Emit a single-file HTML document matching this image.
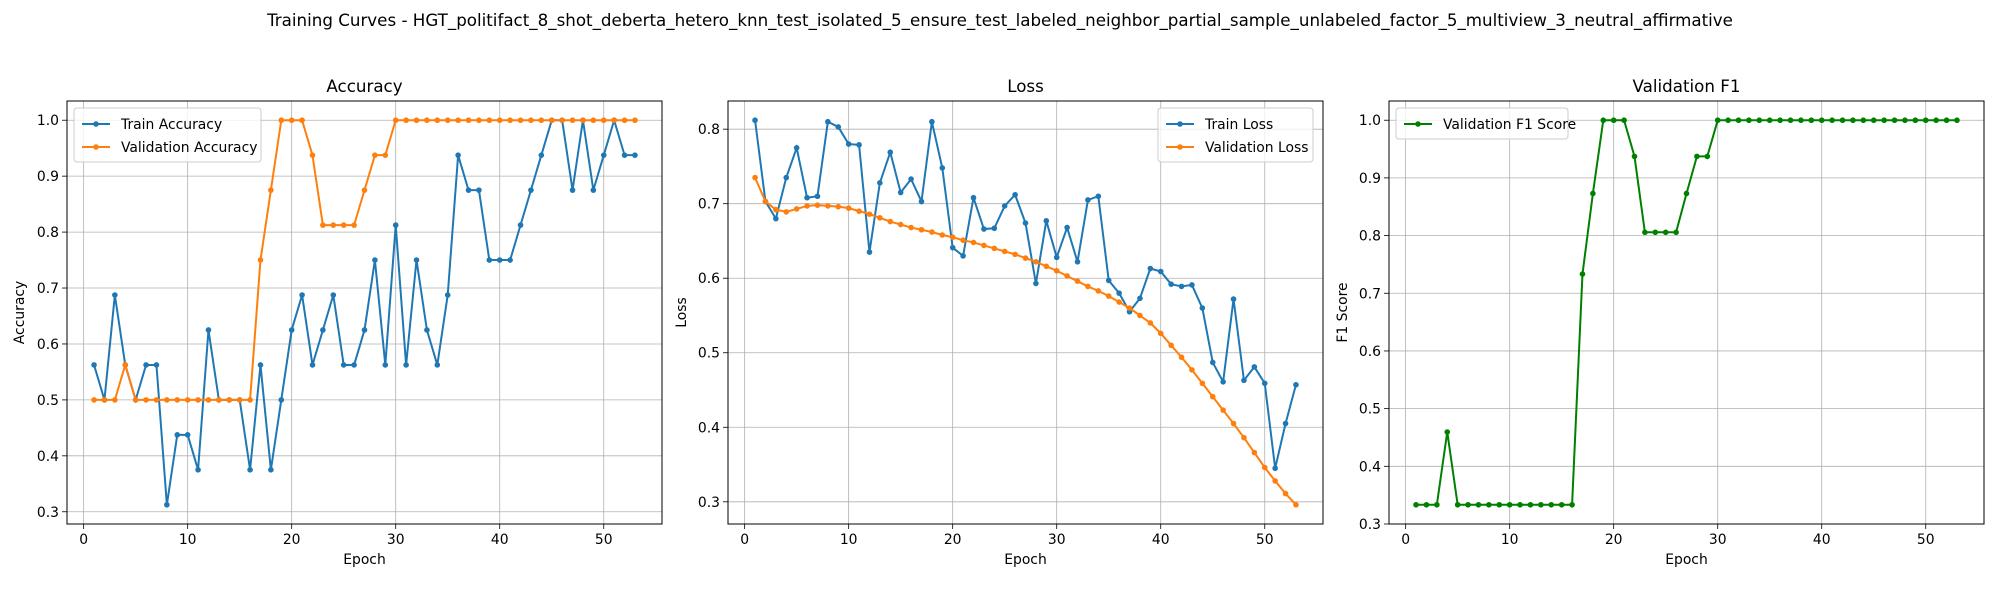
<!DOCTYPE html>
<html><head><meta charset="utf-8">
<style>
body{margin:0;background:#fff;}
svg text{font-family:"DejaVu Sans","Liberation Sans",sans-serif;fill:#000;}
</style></head>
<body>
<svg id="fig" width="2000" height="600" viewBox="0 0 2000 600" xmlns="http://www.w3.org/2000/svg">
<rect width="2000" height="600" fill="#fff"/>
<text x="1000" y="26" font-size="16.7" text-anchor="middle">Training Curves - HGT_politifact_8_shot_deberta_hetero_knn_test_isolated_5_ensure_test_labeled_neighbor_partial_sample_unlabeled_factor_5_multiview_3_neutral_affirmative</text>
</svg>
<script>
const epochs = Array.from({length:53},(_,i)=>i+1);
const trainAcc = [0.5625,0.5,0.6875,0.5625,0.5,0.5625,0.5625,0.3125,0.4375,0.4375,0.375,0.625,0.5,0.5,0.5,0.375,0.5625,0.375,0.5,0.625,0.6875,0.5625,0.625,0.6875,0.5625,0.5625,0.625,0.75,0.5625,0.8125,0.5625,0.75,0.625,0.5625,0.6875,0.9375,0.875,0.875,0.75,0.75,0.75,0.8125,0.875,0.9375,1.0,1.0,0.875,1.0,0.875,0.9375,1.0,0.9375,0.9375];
const valAcc = [0.5,0.5,0.5,0.5625,0.5,0.5,0.5,0.5,0.5,0.5,0.5,0.5,0.5,0.5,0.5,0.5,0.75,0.875,1,1,1,0.9375,0.8125,0.8125,0.8125,0.8125,0.875,0.9375,0.9375,1,1,1,1,1,1,1,1,1,1,1,1,1,1,1,1,1,1,1,1,1,1,1,1];
const trainLoss = [0.812,0.703,0.680,0.735,0.775,0.708,0.710,0.810,0.803,0.780,0.779,0.635,0.728,0.769,0.715,0.733,0.703,0.810,0.748,0.641,0.630,0.708,0.666,0.667,0.697,0.712,0.674,0.593,0.677,0.628,0.668,0.622,0.705,0.710,0.597,0.580,0.555,0.573,0.613,0.609,0.592,0.589,0.591,0.560,0.487,0.461,0.572,0.463,0.481,0.459,0.345,0.405,0.457];
const valLoss = [0.735,0.703,0.692,0.689,0.693,0.697,0.698,0.697,0.696,0.694,0.690,0.686,0.681,0.676,0.672,0.668,0.665,0.662,0.658,0.655,0.651,0.648,0.644,0.640,0.636,0.632,0.627,0.622,0.616,0.610,0.603,0.596,0.589,0.583,0.576,0.568,0.560,0.550,0.540,0.526,0.510,0.494,0.477,0.459,0.441,0.423,0.405,0.386,0.366,0.346,0.328,0.311,0.296];
const valF1 = [0.3333,0.3333,0.3333,0.4595,0.3333,0.3333,0.3333,0.3333,0.3333,0.3333,0.3333,0.3333,0.3333,0.3333,0.3333,0.3333,0.7333,0.8730,1,1,1,0.9373,0.8057,0.8057,0.8057,0.8057,0.8730,0.9373,0.9373,1,1,1,1,1,1,1,1,1,1,1,1,1,1,1,1,1,1,1,1,1,1,1,1];
const xTicks = [0,10,20,30,40,50];
const accTicks = [0.3,0.4,0.5,0.6,0.7,0.8,0.9,1.0];
const lossTicks = [0.3,0.4,0.5,0.6,0.7,0.8];
const f1Ticks = [0.3,0.4,0.5,0.6,0.7,0.8,0.9,1.0];

const NS='http://www.w3.org/2000/svg';
const svg=document.getElementById('fig');
function mk(tag,attrs,parent){const e=document.createElementNS(NS,tag);for(const k in attrs)e.setAttribute(k,attrs[k]);(parent||svg).appendChild(e);return e;}
const TOP=101,BOT=524,W=595;

function panel(o){
  const L=o.left,R=L+W;
  const g=mk('g',{});
  
  
  const xmin=0.4,xmax=53.6;
  const allv=[].concat(...o.series.map(s=>s.data));
  let lo=Math.min(...allv),hi=Math.max(...allv);const m=(hi-lo)*0.05;
  const ymin=o.ymin!==undefined?o.ymin:lo-m, ymax=hi+m;
  const xs=e=>L+(e-(1-2.6))/(57.2)*W;
  const ys=v=>BOT-(v-ymin)/(ymax-ymin)*(BOT-TOP);
  for(const t of xTicks){
    const gl=mk('line',{x1:xs(t),x2:xs(t),y1:TOP,y2:BOT,stroke:'#b0b0b0','stroke-width':0.8},g);
    
    
    mk('line',{x1:xs(t),x2:xs(t),y1:BOT,y2:BOT+5,stroke:'#000','stroke-width':0.8},g);
    const tl=mk('text',{x:xs(t),y:BOT+20,'font-size':13.9,'text-anchor':'middle'},g);tl.textContent=t;
    
    
  }
  for(const t of o.yt){
    const gl=mk('line',{x1:L,x2:R,y1:ys(t),y2:ys(t),stroke:'#b0b0b0','stroke-width':0.8},g);
    
    
    mk('line',{x1:L-5,x2:L,y1:ys(t),y2:ys(t),stroke:'#000','stroke-width':0.8},g);
    const tl=mk('text',{x:L-8,y:ys(t)+5,'font-size':13.9,'text-anchor':'end'},g);tl.textContent=t.toFixed(1);
    
    
  }
  for(const s of o.series){
    const pts=epochs.map((e,i)=>xs(e)+','+ys(s.data[i])).join(' ');
    const pl=mk('polyline',{points:pts,fill:'none',stroke:s.color,'stroke-width':2},g);
    
    
    epochs.forEach((e,i)=>{
      const c=mk('circle',{cx:xs(e),cy:ys(s.data[i]),r:2.8,fill:s.color},g);
      
      
    });
  }
  const fr=mk('rect',{x:L,y:TOP,width:W,height:BOT-TOP,fill:'none',stroke:'#000','stroke-width':1},g);
  
  
  const ti=mk('text',{x:L+W/2,y:92,'font-size':16.7,'text-anchor':'middle'},g);ti.textContent=o.title;
  
  
  const xl=mk('text',{x:L+W/2,y:564,'font-size':13.9,'text-anchor':'middle'},g);xl.textContent='Epoch';
  
  
  const yl=mk('text',{x:0,y:0,'font-size':13.9,'text-anchor':'middle',transform:`translate(${o.ylx},${(TOP+BOT)/2}) rotate(-90)`},g);yl.textContent=o.ylabel;
  
  
  // legend
  const lw=o.legW,lh=8+o.series.length*23;
  const lx=o.legRight?R-10-lw:L+7, ly=TOP+7;
  const lg=mk('g',{},g);
  
  
  mk('rect',{x:lx,y:ly,width:lw,height:lh,rx:3,fill:'#fff','fill-opacity':0.8,stroke:'#ccc','stroke-width':1},lg);
  o.series.forEach((s,i)=>{
    const yy=ly+16+i*23;
    mk('line',{x1:lx+8,x2:lx+36,y1:yy,y2:yy,stroke:s.color,'stroke-width':2},lg);
    mk('circle',{cx:lx+22,cy:yy,r:2.8,fill:s.color},lg);
    const t=mk('text',{x:lx+47,y:yy+5,'font-size':13.9},lg);t.textContent=s.label;
    
    
  });
}
panel({name:'accuracy-panel',left:67,title:'Accuracy',ylabel:'Accuracy',ylx:24,yt:accTicks,legW:187,legRight:false,
  series:[{key:'train-accuracy',label:'Train Accuracy',data:trainAcc,color:'#1f77b4'},{key:'validation-accuracy',label:'Validation Accuracy',data:valAcc,color:'#ff7f0e'}]});
panel({name:'loss-panel',left:728,title:'Loss',ylabel:'Loss',ylx:686,yt:lossTicks,legW:155,legRight:true,
  series:[{key:'train-loss',label:'Train Loss',data:trainLoss,color:'#1f77b4'},{key:'validation-loss',label:'Validation Loss',data:valLoss,color:'#ff7f0e'}]});
panel({name:'f1-panel',left:1389,title:'Validation F1',ylabel:'F1 Score',ylx:1347,yt:f1Ticks,ymin:0.3,legW:172,legRight:false,
  series:[{key:'validation-f1',label:'Validation F1 Score',data:valF1,color:'#008000'}]});
</script>
</body></html>
